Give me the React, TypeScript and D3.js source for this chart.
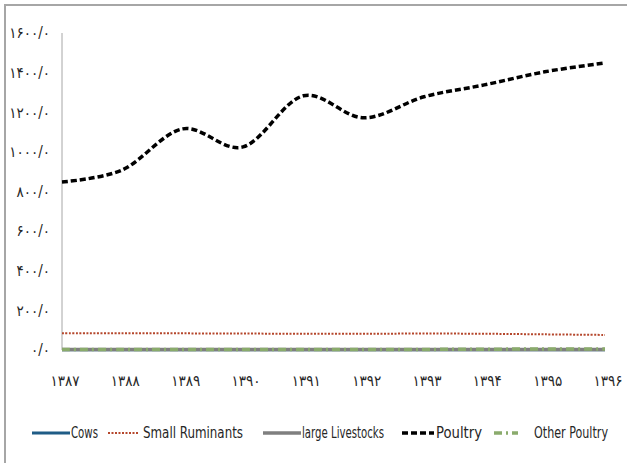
import React from 'react';
import * as d3 from 'd3';

const YEARS = ['۱۳۸۷', '۱۳۸۸', '۱۳۸۹', '۱۳۹۰', '۱۳۹۱', '۱۳۹۲', '۱۳۹۳', '۱۳۹۴', '۱۳۹۵', '۱۳۹۶'];
const Y_TICKS = [0, 200, 400, 600, 800, 1000, 1200, 1400, 1600];
const Y_TICK_LABELS = ['۰/۰', '۲۰۰/۰', '۴۰۰/۰', '۶۰۰/۰', '۸۰۰/۰', '۱۰۰۰/۰', '۱۲۰۰/۰', '۱۴۰۰/۰', '۱۶۰۰/۰'];

const COWS = [1, 1, 1, 1, 1, 1, 1, 1, 1, 1];
const SMALL_RUMINANTS = [85, 84, 84, 83, 82, 82, 83, 82, 79, 76];
const LARGE_LIVESTOCKS = [2, 2, 2, 2, 2, 2, 2, 2, 2, 2];
const POULTRY = [848, 909, 1116, 1025, 1283, 1172, 1278, 1338, 1404, 1449];
const OTHER_POULTRY = [2, 2, 2, 2, 2, 3, 3, 4, 5, 5];

const SERIES = [
  { name: 'Cows', values: COWS, color: '#1f5c86', width: 3, dash: '', legendX: 32, lineW: 38, textX: 39, textW: 27 },
  { name: 'Small Ruminants', values: SMALL_RUMINANTS, color: '#b5472c', width: 2, dash: '2,1.5', legendX: 108, lineW: 31, textX: 35, textW: 100 },
  { name: 'large Livestocks', values: LARGE_LIVESTOCKS, color: '#7f7f7f', width: 3.5, dash: '', legendX: 263, lineW: 38, textX: 39, textW: 82 },
  { name: 'Poultry', values: POULTRY, color: '#000000', width: 3.5, dash: '6,3', legendX: 402, lineW: 32, textX: 34, textW: 46 },
  { name: 'Other Poultry', values: OTHER_POULTRY, color: '#8aab6c', width: 3.5, dash: '8,4,2,4', legendX: 494, lineW: 24, textX: 40, textW: 74 },
];

const FONT = '"Liberation Sans Narrow", "DejaVu Sans Condensed", "Noto Sans", sans-serif';

export default function App() {
  const width = 627;
  const height = 463;
  const x = d3.scalePoint<string>().domain(YEARS).range([62, 605]);
  const y = d3.scaleLinear().domain([0, 1600]).range([350, 33]);

  const line = d3
    .line<number>()
    .x((_, i) => x(YEARS[i]) as number)
    .y(d => y(d))
    .curve(d3.curveCardinal.tension(0));

  // draw order: gray and green end up on top near zero
  const drawOrder = [0, 1, 3, 2, 4];

  return (
    <svg
      width={width}
      height={height}
      style={{ position: 'absolute', left: 0, top: 0, background: '#fff' }}
      fontFamily={FONT}
    >
      <rect x={5} y={5} width={640} height={480} fill="#fff" stroke="#a6a6a6" strokeWidth={2} />

      <line x1={62} x2={62} y1={33} y2={350} stroke="#a6a6a6" strokeWidth={1} />
      <line x1={62} x2={605} y1={350} y2={350} stroke="#a6a6a6" strokeWidth={1} />
      {Y_TICKS.map((t, i) => (
        <text key={t} x={50} y={y(t)} dy="0.35em" textAnchor="end" fontSize={15} fill="#262626">
          {Y_TICK_LABELS[i]}
        </text>
      ))}

      {YEARS.map(yr => (
        <text
          key={yr}
          x={(x(yr) as number) + 3}
          y={381}
          dy="0.35em"
          textAnchor="middle"
          fontSize={15}
          fill="#262626"
        >
          {yr}
        </text>
      ))}

      {drawOrder.map(i => {
        const s = SERIES[i];
        return (
          <path
            key={s.name}
            d={line(s.values) || ''}
            fill="none"
            stroke={s.color}
            strokeWidth={s.width}
            strokeDasharray={s.dash || undefined}
          />
        );
      })}

      {SERIES.map(s => (
        <g key={s.name} transform={`translate(${s.legendX},433)`}>
          <line
            x1={0}
            x2={s.lineW}
            y1={0}
            y2={0}
            stroke={s.color}
            strokeWidth={s.width}
            strokeDasharray={s.dash || undefined}
          />
          <text
            x={s.textX}
            y={0}
            dy="0.35em"
            fontSize={15}
            fill="#262626"
            textLength={s.textW}
            lengthAdjust="spacingAndGlyphs"
          >
            {s.name}
          </text>
        </g>
      ))}
    </svg>
  );
}
